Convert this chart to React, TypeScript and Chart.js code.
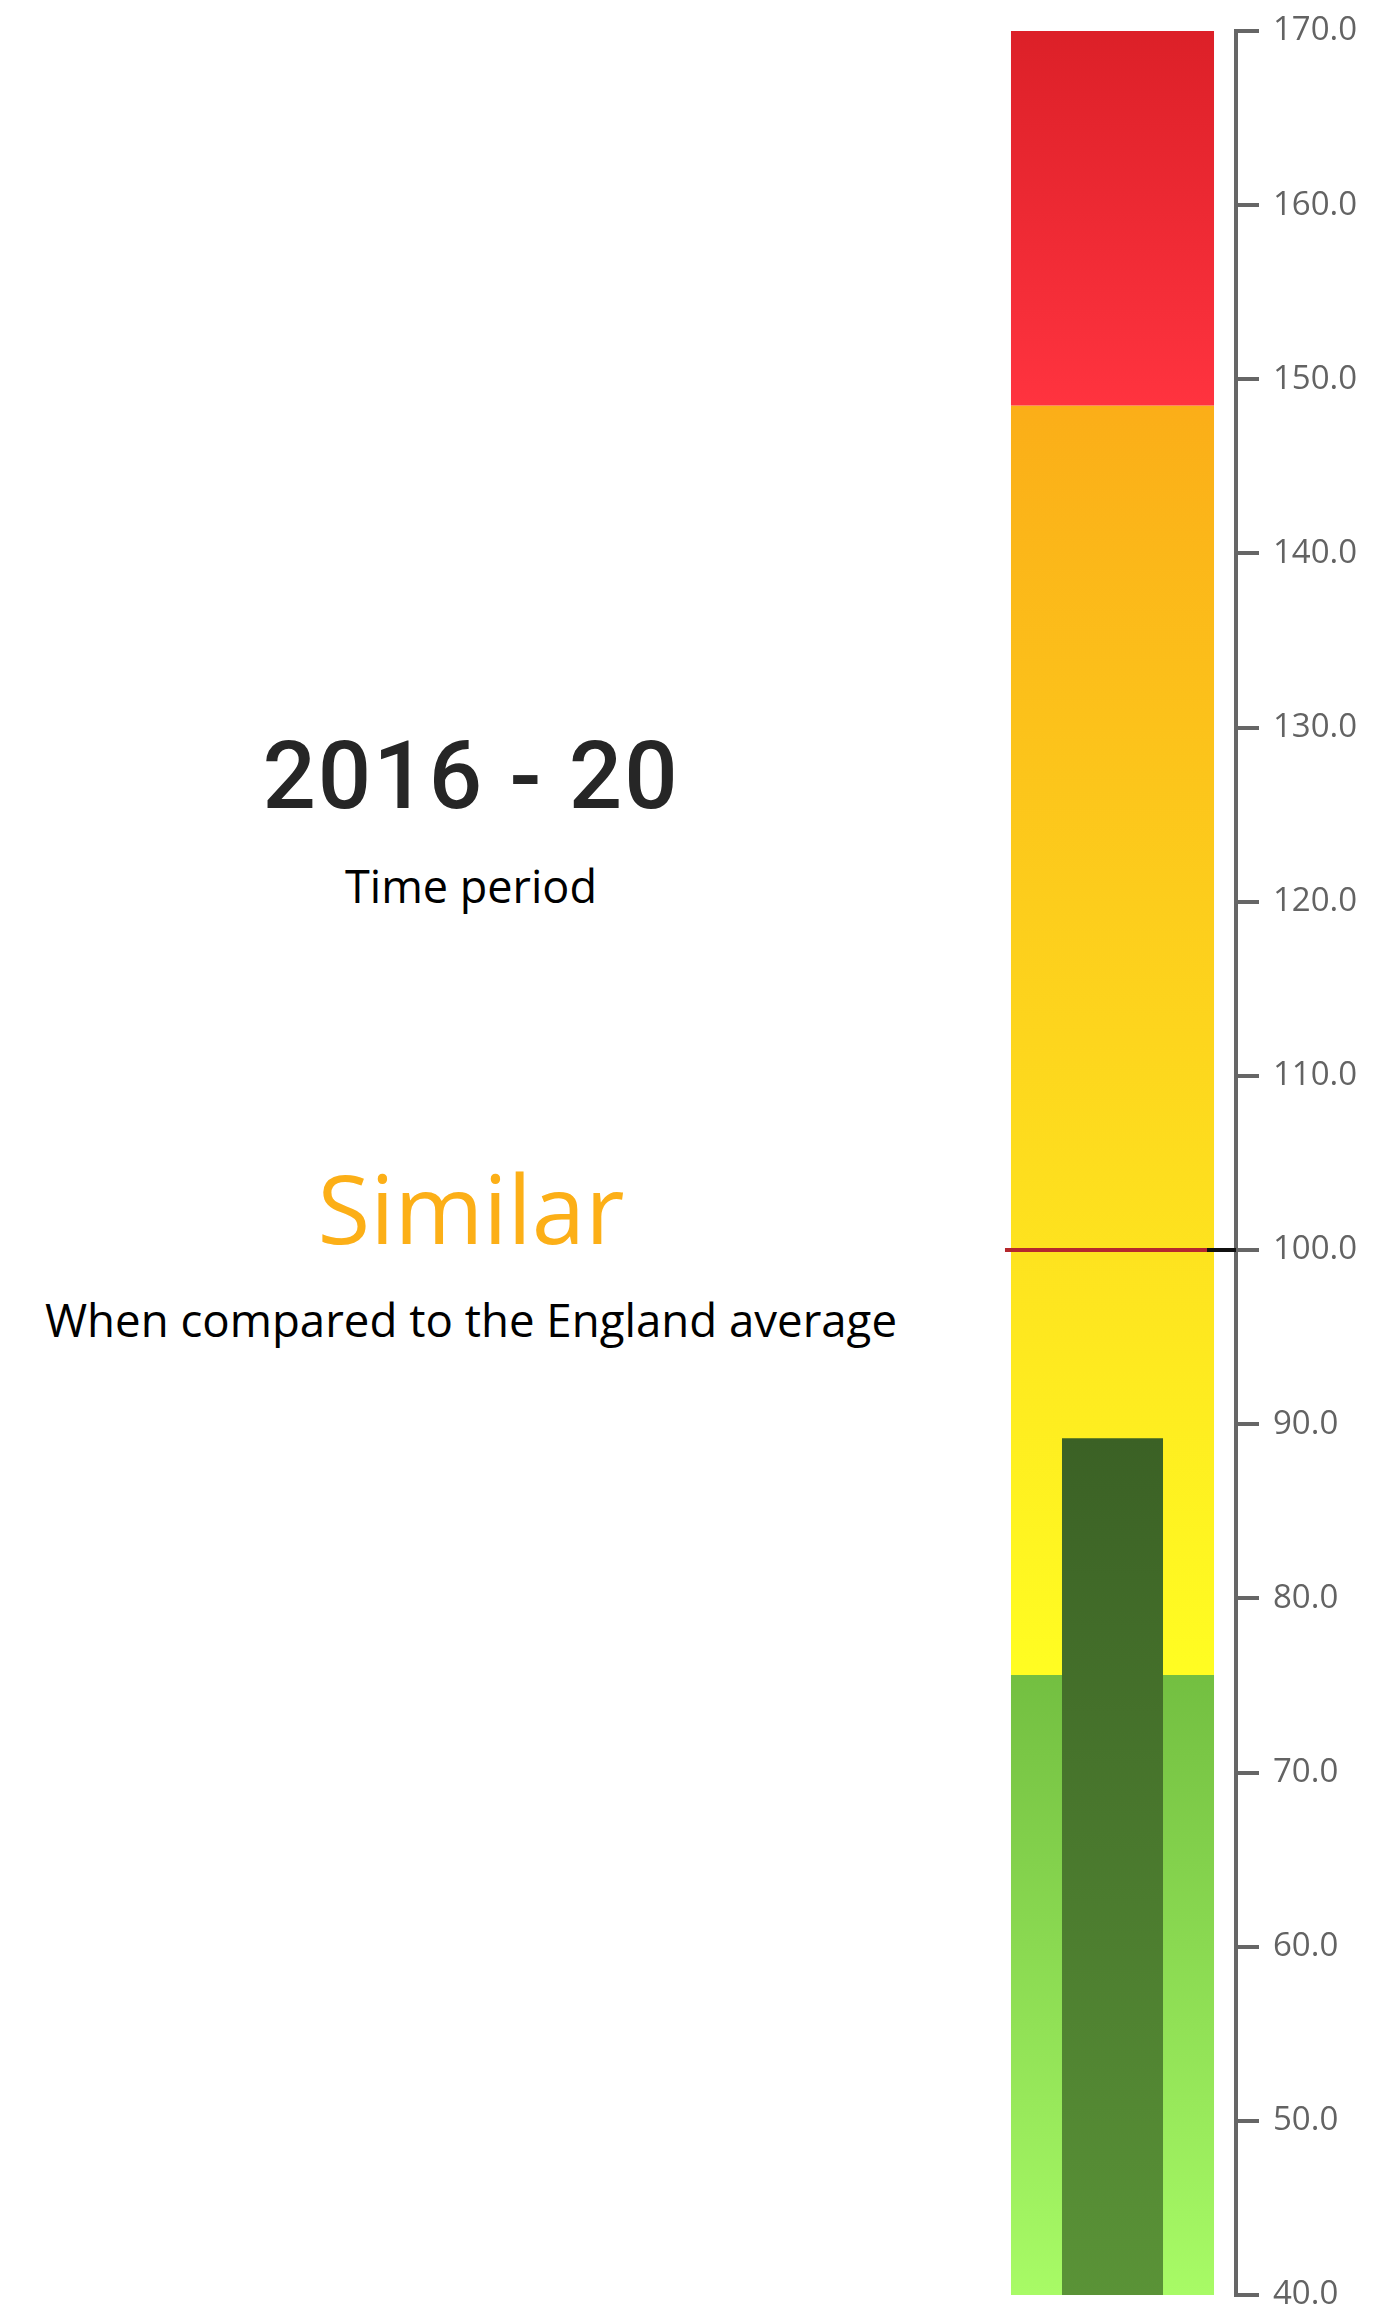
import React, { useEffect, useRef } from "react";
import { Chart, registerables } from "chart.js";

Chart.register(...registerables);

// ---- data ----
const categories = ["2016 - 20"];
const redBand = [148.5, 170];
const amberBand = [75.6, 148.5];
const greenBand = [40, 75.6];
const areaValue = [89.2];
const englandAverage = 100;
const yMin = 40;
const yMax = 170;
const yStep = 10;
const timePeriodLabel = "2016 - 20";
const timePeriodCaption = "Time period";
const comparisonLabel = "Similar";
const comparisonCaption = "When compared to the England average";

function vGrad(chart: any, topVal: number, botVal: number, topColor: string, botColor: string, fallback: string) {
  const { chartArea, scales } = chart;
  if (!chartArea || !scales || !scales.y) return fallback;
  const y = scales.y;
  const g = chart.ctx.createLinearGradient(0, y.getPixelForValue(topVal), 0, y.getPixelForValue(botVal));
  g.addColorStop(0, topColor);
  g.addColorStop(1, botColor);
  return g;
}

const englandLinePlugin = {
  id: "englandLine",
  afterDatasetsDraw(chart: any) {
    const meta = chart.getDatasetMeta(0);
    const bar = meta && meta.data && meta.data[0];
    if (!bar) return;
    const props = bar.getProps(["x", "width"], true);
    const left = props.x - props.width / 2;
    const right = props.x + props.width / 2;
    const y = Math.round(chart.scales.y.getPixelForValue(englandAverage));
    const c = chart.ctx;
    c.save();
    c.lineWidth = 4;
    c.strokeStyle = "#b5282d";
    c.beginPath();
    c.moveTo(left - 6, y);
    c.lineTo(right - 7, y);
    c.stroke();
    c.strokeStyle = "#111111";
    c.beginPath();
    c.moveTo(right - 7, y);
    c.lineTo(chart.chartArea.right, y);
    c.stroke();
    c.restore();
  },
};

function BulletChart() {
  const ref = useRef<HTMLCanvasElement | null>(null);
  useEffect(() => {
    if (!ref.current) return;
    const bandPct = 0.822;
    const chart = new Chart(ref.current, {
      type: "bar",
      data: {
        labels: categories,
        datasets: [
          {
            label: "Higher",
            data: [redBand as any],
            grouped: false,
            barPercentage: bandPct,
            categoryPercentage: 1,
            backgroundColor: (ctx: any) =>
              vGrad(ctx.chart, redBand[1], redBand[0], "#dc2028", "#ff333f", "#ee2a33"),
            borderWidth: 0,
            order: 3,
          } as any,
          {
            label: "Similar",
            data: [amberBand as any],
            grouped: false,
            barPercentage: bandPct,
            categoryPercentage: 1,
            backgroundColor: (ctx: any) =>
              vGrad(ctx.chart, amberBand[1], amberBand[0], "#fbae18", "#fffd22", "#fcd41e"),
            borderWidth: 0,
            order: 3,
          } as any,
          {
            label: "Lower",
            data: [greenBand as any],
            grouped: false,
            barPercentage: bandPct,
            categoryPercentage: 1,
            backgroundColor: (ctx: any) =>
              vGrad(ctx.chart, greenBand[1], greenBand[0], "#73bf41", "#a8fb66", "#8cdc52"),
            borderWidth: 0,
            order: 3,
          } as any,
          {
            label: "Value",
            data: areaValue,
            grouped: false,
            barPercentage: 0.409,
            categoryPercentage: 1,
            backgroundColor: (ctx: any) =>
              vGrad(ctx.chart, areaValue[0], yMin, "#3b6125", "#5a9337", "#4a7a2e"),
            borderWidth: 0,
            order: 1,
          } as any,
        ],
      },
      options: {
        animation: false,
        responsive: false,
        devicePixelRatio: 1,
        layout: { padding: { top: 31, bottom: 13, left: 0, right: 0 } },
        plugins: { legend: { display: false }, tooltip: { enabled: false }, title: { display: false } },
        scales: {
          x: { display: false },
          y: {
            position: "right",
            min: yMin,
            max: yMax,
            ticks: {
              stepSize: yStep,
              autoSkip: false,
              color: "#636363",
              padding: 14,
              font: { family: "'Open Sans', sans-serif", size: 33 },
              callback: (v: any) => Number(v).toFixed(1),
            },
            grid: {
              display: true,
              drawOnChartArea: false,
              drawTicks: true,
              tickLength: 23,
              color: "#666666",
              lineWidth: 4,
            },
            border: { display: true, color: "#666666", width: 4 },
            afterFit: (s: any) => {
              s.width = 142;
              s.paddingTop = 0;
              s.paddingBottom = 0;
            },
          },
        },
      } as any,
      plugins: [englandLinePlugin],
    });
    return () => chart.destroy();
  }, []);
  return (
    <canvas
      ref={ref}
      width={389}
      height={2308}
      style={{ position: "absolute", left: 989, top: 0, width: 389, height: 2308 }}
    />
  );
}

export default function App() {
  const col: React.CSSProperties = {
    position: "absolute",
    left: 0,
    width: 942,
    textAlign: "center",
    lineHeight: 1,
    whiteSpace: "nowrap",
    fontFamily: "'Open Sans', sans-serif",
  };
  return (
    <div
      style={{
        position: "absolute",
        left: 0,
        top: 0,
        width: 1378,
        height: 2308,
        overflow: "hidden",
        background: "#ffffff",
      }}
    >
      <div
        style={{
          ...col,
          top: 729,
          fontFamily: "Roboto, sans-serif",
          fontWeight: 500,
          fontSize: 94,
          letterSpacing: 2,
          color: "#262626",
        }}
      >
        {timePeriodLabel}
      </div>
      <div style={{ ...col, top: 863, fontSize: 45, color: "#000000" }}>{timePeriodCaption}</div>
      <div style={{ ...col, top: 1159, fontSize: 96, color: "#fcaf17" }}>{comparisonLabel}</div>
      <div style={{ ...col, top: 1297, fontSize: 45.6, color: "#000000" }}>{comparisonCaption}</div>
      <BulletChart />
    </div>
  );
}
